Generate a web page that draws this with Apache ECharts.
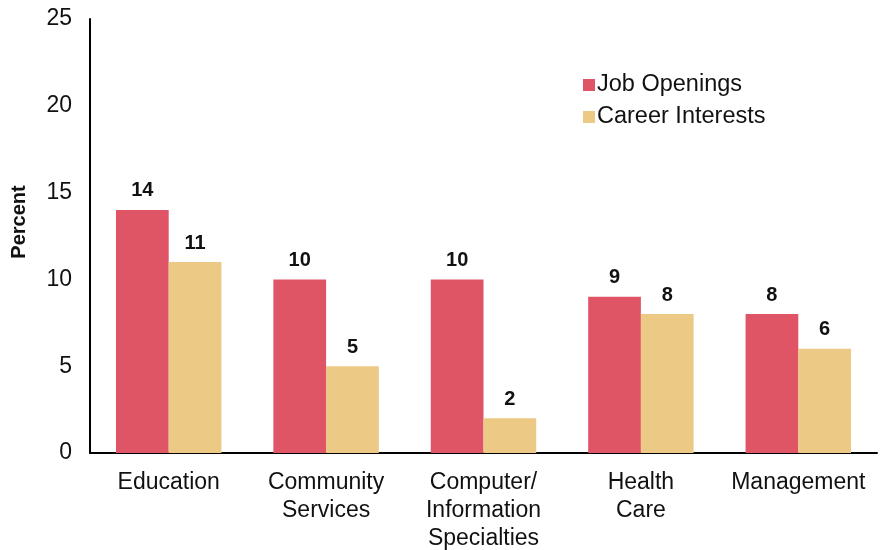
<!DOCTYPE html>
<html>
<head>
<meta charset="utf-8">
<script src="https://cdn.jsdelivr.net/npm/echarts@6/dist/echarts.min.js"></script>
<style>html,body{margin:0;padding:0;background:#fff}#c{width:880px;height:550px}</style>
</head>
<body>
<div id="c"></div>
<script>
const categories = ["Education", "Community\nServices", "Computer/\nInformation\nSpecialties", "Health\nCare", "Management"];
const jobOpenings = [14, 10, 10, 9, 8];
const careerInterests = [11, 5, 2, 8, 6];
const seriesNames = ["Job Openings", "Career Interests"];
const yTicks = { min: 0, max: 25, interval: 5 };

const FONT = "Liberation Sans, Helvetica, Arial, sans-serif";
const chart = echarts.init(document.getElementById('c'), null, { renderer: 'canvas' });
const labelCfg = { show: true, position: 'top', distance: 9, fontFamily: FONT, fontSize: 20, fontWeight: 'bold', color: '#111' };
chart.setOption({
  animation: false,
  backgroundColor: '#fff',
  grid: { left: 90, right: 3, top: 19, bottom: 97, containLabel: false, outerBoundsMode: 'none' },
  legend: {
    orient: 'vertical', left: 578, top: 68, itemWidth: 12, itemHeight: 12, itemGap: 8,
    icon: 'rect',
    textStyle: { fontFamily: FONT, fontSize: 23.5, color: '#111', padding: [0,0,0,-3] },
    data: seriesNames
  },
  xAxis: {
    type: 'category', data: categories,
    axisLine: { lineStyle: { color: '#000', width: 2 } },
    axisTick: { show: false },
    axisLabel: { fontFamily: FONT, fontSize: 23, color: '#111', lineHeight: 28, margin: 16, interval: 0 }
  },
  yAxis: {
    type: 'value', min: yTicks.min, max: yTicks.max, interval: yTicks.interval,
    name: 'Percent', nameLocation: 'middle', nameGap: 61,
    nameTextStyle: { fontFamily: FONT, fontSize: 20, fontWeight: 'bold', color: '#111', padding: [0, 0, 0, 28] },
    axisLine: { show: true, lineStyle: { color: '#000', width: 2 } },
    axisTick: { show: false },
    splitLine: { show: false },
    axisLabel: { fontFamily: FONT, fontSize: 23, color: '#111', margin: 18 }
  },
  series: [
    { name: seriesNames[0], type: 'bar', data: jobOpenings, barGap: '0%', barCategoryGap: '33%',
      itemStyle: { color: '#E05566' }, label: labelCfg },
    { name: seriesNames[1], type: 'bar', data: careerInterests, barGap: '0%', barCategoryGap: '33%',
      itemStyle: { color: '#ECC984' }, label: labelCfg }
  ]
});
</script>
</body>
</html>
